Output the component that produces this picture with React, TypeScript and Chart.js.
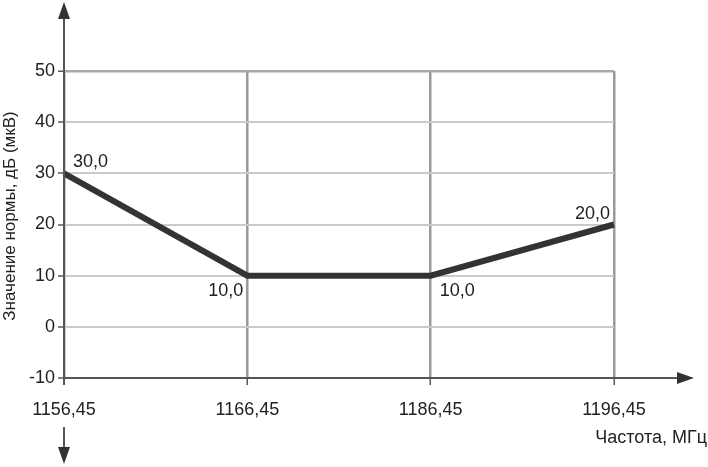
import React, { useEffect, useRef } from "react";
import { Chart, registerables } from "chart.js";

Chart.register(...registerables);

const categories = ["1156,45", "1166,45", "1186,45", "1196,45"];
const normValues = [30, 10, 10, 20];
const yTicksMin = -10;
const yTicksMax = 50;
const yStep = 10;
const xTitle = "Частота, МГц";
const yTitle = "Значение нормы, дБ (мкВ)";
// label placement: [horizontal side, vertical side]
const labelPlacement: Array<[string, string]> = [
  ["right", "above"],
  ["left", "below"],
  ["right", "below"],
  ["left", "above"],
];

const FONT = '"Liberation Sans", Arial, sans-serif';

const fmt = (v: number) => v.toFixed(1).replace(".", ",");

const overlay = {
  id: "overlay",
  afterDraw(chart: any) {
    const ctx = chart.ctx as CanvasRenderingContext2D;
    const { left, right, top, bottom } = chart.chartArea;
    ctx.save();
    ctx.strokeStyle = "#555";
    ctx.lineWidth = 2;
    ctx.beginPath();
    ctx.moveTo(left, bottom);
    ctx.lineTo(right + 64, bottom);
    ctx.stroke();
    ctx.beginPath();
    ctx.moveTo(left, 16);
    ctx.lineTo(left, bottom + 7);
    ctx.moveTo(left, bottom + 49);
    ctx.lineTo(left, 450);
    ctx.stroke();
    ctx.fillStyle = "#333";
    ctx.beginPath();
    ctx.moveTo(left, 2);
    ctx.lineTo(left - 6, 19);
    ctx.lineTo(left + 6, 19);
    ctx.closePath();
    ctx.fill();
    ctx.beginPath();
    ctx.moveTo(left, 464);
    ctx.lineTo(left - 6, 447);
    ctx.lineTo(left + 6, 447);
    ctx.closePath();
    ctx.fill();
    ctx.beginPath();
    ctx.moveTo(right + 80, bottom);
    ctx.lineTo(right + 63, bottom - 6);
    ctx.lineTo(right + 63, bottom + 6);
    ctx.closePath();
    ctx.fill();

    const meta = chart.getDatasetMeta(0);
    ctx.fillStyle = "#222";
    ctx.font = `18px ${FONT}`;
    ctx.textBaseline = "alphabetic";
    meta.data.forEach((pt: any, i: number) => {
      const [h, v] = labelPlacement[i];
      const text = fmt(normValues[i]);
      ctx.textAlign = h === "right" ? "left" : "right";
      const x = h === "right" ? pt.x + 9 : pt.x - 4;
      const y = v === "above" ? pt.y - 6 : pt.y + 20;
      ctx.fillText(text, x, y);
    });

    ctx.font = `18px ${FONT}`;
    ctx.textAlign = "right";
    ctx.textBaseline = "middle";
    ctx.fillText(xTitle, 707, 438);
    ctx.save();
    ctx.translate(10, 216);
    ctx.rotate(-Math.PI / 2);
    ctx.textAlign = "center";
    ctx.font = `17px ${FONT}`;
    ctx.fillText(yTitle, 0, 0);
    ctx.restore();
    ctx.restore();
  },
};

export default function App() {
  const ref = useRef<HTMLCanvasElement>(null);
  useEffect(() => {
    if (!ref.current) return;
    const chart = new Chart(ref.current, {
      type: "line",
      data: {
        labels: categories,
        datasets: [
          {
            data: normValues,
            borderColor: "#333333",
            borderWidth: 6,
            pointRadius: 0,
            tension: 0,
            fill: false,
          },
        ],
      },
      options: {
        animation: false,
        responsive: false,
        maintainAspectRatio: false,
        layout: { padding: { left: 0, right: 94, top: 71, bottom: 0 } },
        plugins: {
          legend: { display: false },
          tooltip: { enabled: false },
          title: { display: false },
        },
        scales: {
          x: {
            type: "category",
            offset: false,
            afterFit: (s: any) => {
              s.height = 89;
            },
            border: { display: false },
            grid: {
              color: "#9a9a9a",
              lineWidth: 2.5,
              tickLength: 7,
              tickColor: "#5a5a5a",
              tickWidth: 1.5,
              drawTicks: true,
            },
            ticks: {
              color: "#222",
              font: { family: FONT, size: 18 },
              padding: 14,
              maxRotation: 0,
              autoSkip: false,
            },
          },
          y: {
            min: yTicksMin,
            max: yTicksMax,
            afterFit: (s: any) => {
              s.width = 64;
            },
            border: { display: false },
            grid: {
              color: (c: any) =>
                c.tick && c.tick.value === yTicksMax ? "#a8a8a8" : "#cacaca",
              lineWidth: (c: any) =>
                c.tick && c.tick.value === yTicksMax ? 2.5 : 2,
              tickLength: 6,
              tickColor: "#5a5a5a",
              tickWidth: 1.5,
            },
            ticks: {
              stepSize: yStep,
              color: "#222",
              font: { family: FONT, size: 18 },
              padding: 3,
            },
          },
        },
      },
      plugins: [overlay],
    });
    return () => chart.destroy();
  }, []);
  return (
    <div style={{ position: "fixed", left: 0, top: 0, width: 708, height: 467, background: "#fff" }}>
      <canvas ref={ref} width={708} height={467} style={{ width: 708, height: 467 }} />
    </div>
  );
}
